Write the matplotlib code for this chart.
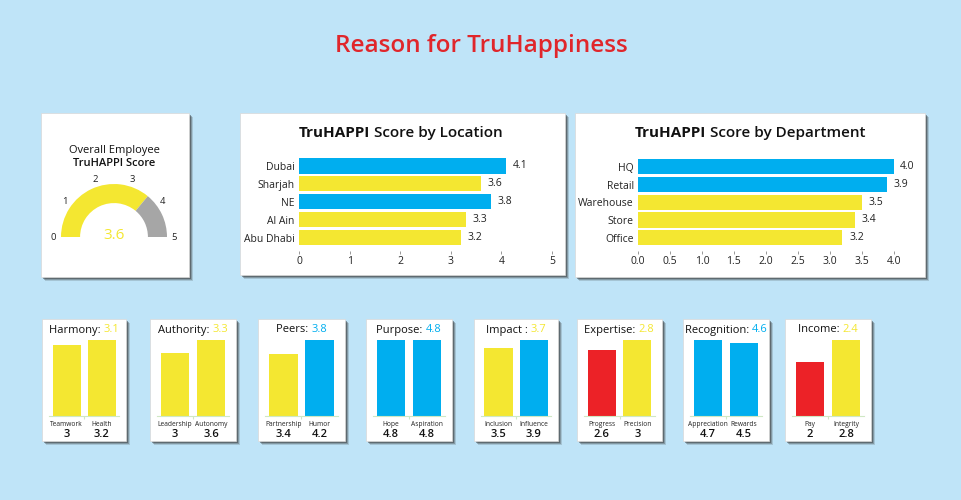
import numpy as np
import matplotlib
matplotlib.use('Agg')
import matplotlib.pyplot as plt
from matplotlib.patches import Rectangle, Wedge

plt.rcParams['font.family'] = ['Open Sans', 'DejaVu Sans']

# ---- data ----
overall_score = 3.6
gauge_max = 5

locations = ['Dubai', 'Sharjah', 'NE', 'Al Ain', 'Abu Dhabi']
location_scores = [4.1, 3.6, 3.8, 3.3, 3.2]

departments = ['HQ', 'Retail', 'Warehouse', 'Store', 'Office']
department_scores = [4.0, 3.9, 3.5, 3.4, 3.2]

factor_names = ['Harmony', 'Authority', 'Peers', 'Purpose', 'Impact ', 'Expertise', 'Recognition', 'Income']
factor_scores = [3.1, 3.3, 3.8, 4.8, 3.7, 2.8, 4.6, 2.4]
factor_labels = [['Teamwork', 'Health'], ['Leadership', 'Autonomy'], ['Partnership', 'Humor'],
                 ['Hope', 'Aspiration'], ['Inclusion', 'Influence'], ['Progress', 'Precision'],
                 ['Appreciation', 'Rewards'], ['Pay', 'Integrity']]
factor_values = [[3, 3.2], [3, 3.6], [3.4, 4.2], [4.8, 4.8], [3.5, 3.9], [2.6, 3], [4.7, 4.5], [2, 2.8]]

# ---- style ----
BG = '#bfe4f8'
YELLOW = '#f4e731'
BLUE = '#00aeef'
RED = '#ec2227'
GREY = '#a6a6a6'
TITLE_RED = '#e0262b'
W, H = 962, 500


def score_color(v):
    # bar colours
    if v >= 3.75:
        return BLUE
    if v < 2.7:
        return RED
    return YELLOW


def title_color(v):
    return BLUE if v >= 3.75 else YELLOW


def rect(x0, y0, x1, y1):
    # pixel box (top-left origin) -> figure fraction
    return [x0 / W, 1 - y1 / H, (x1 - x0) / W, (y1 - y0) / H]


fig = plt.figure(figsize=(W / 100, H / 100), dpi=100, facecolor=BG)


def panel(x0, y0, x1, y1):
    for off, a in [(4, 0.18), (3, 0.3), (2, 0.45)]:
        fig.add_artist(Rectangle(((x0 + off) / W, 1 - (y1 + off) / H), (x1 - x0) / W, (y1 - y0) / H,
                                 transform=fig.transFigure, facecolor='#333333', edgecolor='none',
                                 alpha=a, zorder=-3))
    fig.add_artist(Rectangle((x0 / W, 1 - y1 / H), (x1 - x0) / W, (y1 - y0) / H,
                             transform=fig.transFigure, facecolor='white', edgecolor='#d8d8d8',
                             lw=0.5, zorder=-2))


def split_text(xc, yc, first, second, size, kw1, kw2):
    # two text pieces centred together on xc
    r = fig.canvas.get_renderer()
    t1 = fig.text(0, 0, first, size=size, va='center', **kw1)
    t2 = fig.text(0, 0, second, size=size, va='center', **kw2)
    w1 = t1.get_window_extent(r).width
    w2 = t2.get_window_extent(r).width
    x0 = xc - (w1 + w2) / 2
    t1.set_position((x0 / W, 1 - yc / H))
    t2.set_position(((x0 + w1) / W, 1 - yc / H))


fig.text(0.5, 1 - 46 / H, 'Reason for TruHappiness', size=17.5, color=TITLE_RED,
         ha='center', va='center', weight='semibold')

# ---- gauge ----
panel(41, 113, 189, 277)
fig.text(114 / W, 1 - 151 / H, 'Overall Employee', size=8, ha='center', va='center', color='#111111')
fig.text(114 / W, 1 - 163 / H, 'TruHAPPI Score', size=8, ha='center', va='center',
         color='#111111', weight='semibold')
R = 53.0
gx = fig.add_axes(rect(114 - 1.25 * R, 237 - 1.25 * R, 114 + 1.25 * R, 237 + 0.2 * R))
gx.set_xlim(-1.25, 1.25)
gx.set_ylim(-0.2, 1.25)
gx.set_aspect('equal')
gx.axis('off')
split = 180 - overall_score / gauge_max * 180
gx.add_patch(Wedge((0, 0), 1, split, 180, width=0.36, facecolor=YELLOW, edgecolor='none'))
gx.add_patch(Wedge((0, 0), 1, 0, split, width=0.36, facecolor=GREY, edgecolor='none'))
for v in range(gauge_max + 1):
    ang = np.pi * (1 - v / gauge_max)
    gx.text(1.14 * np.cos(ang), 1.14 * np.sin(ang), str(v), size=6.8, ha='center', va='center',
            color='#222222')
gx.text(0, 0.03, '{:g}'.format(overall_score), size=11, color=YELLOW, ha='center', va='center')


# ---- horizontal bar charts ----
def hbar(box, names, scores, xmax, ticks, fmt, title_xy, title_rest):
    panel(*box[0])
    split_text(title_xy[0], title_xy[1], 'TruHAPPI', title_rest, 11,
               dict(weight='bold', color='#111111'), dict(weight='semibold', color='#111111'))
    ax = fig.add_axes(rect(*box[1]))
    y = np.arange(len(names))
    ax.barh(y, scores, height=0.85, color=[score_color(s) for s in scores])
    for yi, s in zip(y, scores):
        ax.text(s + xmax * 0.025, yi, fmt.format(s), va='center', ha='left', size=7.5, color='#222222')
    ax.set_yticks(y)
    ax.set_yticklabels(names, size=7.5, color='#222222')
    ax.set_xlim(0, xmax)
    ax.set_xticks(ticks)
    ax.set_xticklabels([fmt.format(t) for t in ticks], size=7.5, color='#222222')
    ax.set_ylim(len(names) - 0.25, -0.5)
    ax.set_facecolor('none')
    for sp in ax.spines.values():
        sp.set_visible(False)
    ax.tick_params(axis='y', length=0, pad=3)
    ax.tick_params(axis='x', length=2.5, width=0.6, color='#888888', pad=1)


hbar([(240, 113, 565, 275), (299, 157, 552, 251)], locations, location_scores, 5,
     [0, 1, 2, 3, 4, 5], '{:g}', (401, 133), ' Score by Location')
hbar([(575, 113, 925, 277), (638, 158, 900, 251)], departments, department_scores, 4.1,
     [0, 0.5, 1, 1.5, 2, 2.5, 3, 3.5, 4], '{:.1f}', (750, 133), ' Score by Department')

# ---- factor panels ----
panel_x = [(42, 126), (150, 236), (258, 345), (366, 452), (474, 558), (577, 662), (683, 769), (785, 871)]
for (x0, x1), name, score, labels, vals in zip(panel_x, factor_names, factor_scores,
                                                factor_labels, factor_values):
    panel(x0, 319, x1, 441)
    split_text((x0 + x1) / 2, 330, name + ': ', '{:g}'.format(score), 8,
               dict(color='#111111'), dict(color=title_color(score)))
    ax = fig.add_axes(rect(x0 + 7, 340, x1 - 7, 416))
    ax.bar([0, 1], vals, width=0.8, color=[score_color(v) for v in vals])
    ax.set_xlim(-0.5, 1.5)
    ax.set_ylim(0, max(vals))
    ax.set_facecolor('none')
    for sp in ax.spines.values():
        sp.set_visible(False)
    ax.spines['bottom'].set_visible(True)
    ax.spines['bottom'].set_color('#cfe8c4')
    ax.spines['bottom'].set_linewidth(0.8)
    ax.set_yticks([])
    ax.set_xticks([0.5])
    ax.set_xticklabels([''])
    ax.tick_params(axis='x', length=2, color='#cfe8c4')
    for i, (lab, v) in enumerate(zip(labels, vals)):
        ax.annotate(lab, xy=(i, 0), xytext=(0, -5.8), textcoords='offset points',
                    ha='center', va='center', size=4.8, color='#222222')
        ax.annotate('{:g}'.format(v), xy=(i, 0), xytext=(0, -13), textcoords='offset points',
                    ha='center', va='center', size=8, color='#111111', weight='semibold')

fig.savefig('out.png', dpi=100, facecolor=BG)
